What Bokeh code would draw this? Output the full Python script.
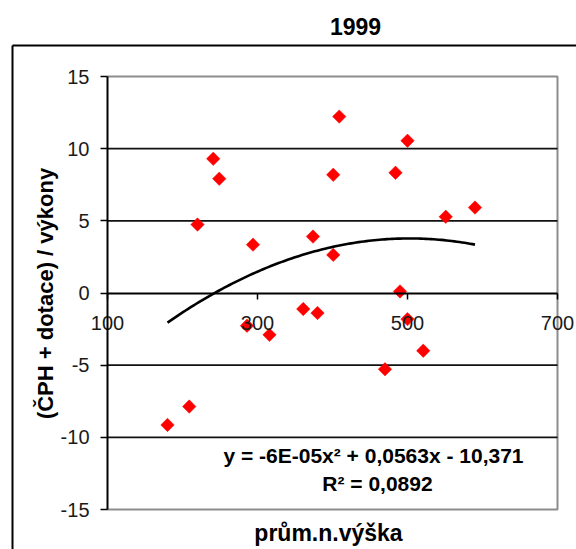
import math
import numpy as np
from bokeh.plotting import figure
from bokeh.models import LinearAxis, FixedTicker, Label, ColumnDataSource
from bokeh.embed import file_html
from bokeh.resources import INLINE

# Mean altitude of the district vs. (ČPH + subsidies) / output, year 1999
altitude = [180, 209, 220, 241, 249, 286, 294, 316, 361, 374, 380,
            401, 401, 409, 470, 484, 490, 500, 500, 521, 551, 590]
ratio = [-9.14, -7.87, 4.74, 9.30, 7.92, -2.27, 3.35, -2.90, -1.11, 3.91, -1.39,
         2.64, 8.19, 12.22, -5.28, 8.33, 0.11, -1.81, 10.55, -4.00, 5.28, 5.92]

# polynomial trend: a*x^2 + b*x + c
trend_coef = [-5.6e-05, 0.0563, -10.371]

x_ticks = [100, 300, 500, 700]
y_ticks = [-15, -10, -5, 0, 5, 10, 15]
grid_levels = [-10, -5, 5, 10]

title_text = "1999"
x_title = "prům.n.výška"
y_title = "(ČPH + dotace) / výkony"
eq_text = "y = -6E-05x² + 0,0563x - 10,371"
r2_text = "R² = 0,0892"

FONT = "Liberation Sans"

X0, X1 = 100, 700
Y0, Y1 = -15, 15

# the frame fills the whole canvas; the plot area is the 100..700 x -15..15 box
W, H = 576, 549
px_left, px_right, px_top, px_bottom = 107, 557, 76, 509
sx = (X1 - X0) / (px_right - px_left)
sy = (Y1 - Y0) / (px_bottom - px_top)
xr = (X0 - px_left * sx, X1 + (W - px_right) * sx)
yr = (Y0 - (H - px_bottom) * sy, Y1 + px_top * sy)

p = figure(width=W, height=H, x_range=xr, y_range=yr,
           output_backend="svg", toolbar_location=None,
           min_border=0, x_axis_type=None, y_axis_type=None)
p.background_fill_color = "white"
p.border_fill_color = "white"
p.outline_line_color = None
p.xgrid.visible = False
p.ygrid.visible = False

# outer chart border (left and top edges fall inside the window)
bx = X0 - (px_left - 12) * sx
by = Y1 + (px_top - 45) * sy
p.line([bx, xr[1] + 10], [by, by], line_color="black", line_width=2)
p.line([bx, bx], [by, yr[0] - 10], line_color="black", line_width=2)

# plot area border
p.line([X0, X1, X1, X0], [Y1, Y1, Y0, Y0], line_color="#8c8c8c", line_width=2)

# horizontal gridlines
for g in grid_levels:
    p.line([X0, X1], [g, g], line_color="#111111", line_width=1.6)

# x axis crossing at y = 0
xaxis = LinearAxis(fixed_location=0, bounds=(X0, X1),
                   ticker=FixedTicker(ticks=x_ticks))
xaxis.axis_line_color = "black"
xaxis.axis_line_width = 2
xaxis.major_tick_line_color = "black"
xaxis.major_tick_line_width = 1.5
xaxis.major_tick_out = 6
xaxis.major_tick_in = 0
xaxis.minor_tick_line_color = None
xaxis.major_label_standoff = 17
xaxis.major_label_text_font = FONT
xaxis.major_label_text_font_size = "20px"
xaxis.major_label_text_color = "#1a1a1a"
p.add_layout(xaxis, "below")

yaxis = LinearAxis(fixed_location=X0, bounds=(Y0, Y1),
                   ticker=FixedTicker(ticks=y_ticks))
yaxis.axis_line_color = "black"
yaxis.axis_line_width = 2
yaxis.major_tick_line_color = "black"
yaxis.major_tick_line_width = 1.5
yaxis.major_tick_out = 7
yaxis.major_tick_in = 0
yaxis.minor_tick_line_color = None
yaxis.major_label_standoff = 11
yaxis.major_label_text_font = FONT
yaxis.major_label_text_font_size = "20px"
yaxis.major_label_text_color = "#1a1a1a"
yaxis.major_label_overrides = {float(t): str(t) for t in y_ticks}
p.add_layout(yaxis, "left")

# trend curve and the data points
tx = np.linspace(min(altitude), max(altitude), 120)
ty = np.polyval(trend_coef, tx)
p.line(tx, ty, line_color="black", line_width=2.6)
src = ColumnDataSource(dict(x=altitude, y=ratio))
p.scatter("x", "y", source=src, marker="square", angle=math.pi / 4,
          size=9.5, fill_color="#ff0000", line_color="#ff0000", line_width=0.5)

def px_to_x(px):
    return X0 + (px - px_left) * sx

def py_to_y(py):
    return Y1 - (py - px_top) * sy

def text(px, py, s, size, bold=True, angle=0.0):
    p.add_layout(Label(x=px_to_x(px), y=py_to_y(py), text=s, text_font=FONT,
                       text_font_size=size,
                       text_font_style="bold" if bold else "normal",
                       text_align="center", text_baseline="middle",
                       text_color="black", angle=angle))

text(355, 26, title_text, "23px")
text(45, 293, y_title, "22px", angle=math.pi / 2)
text(328, 532, x_title, "23px")
text(373, 455, eq_text, "21px")
text(377, 483, r2_text, "21px")

open("out.html", "w").write(file_html(p, INLINE))
